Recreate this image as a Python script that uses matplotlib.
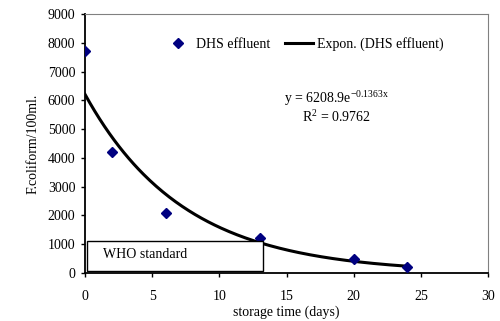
import numpy as np
import matplotlib.pyplot as plt
from matplotlib.patches import Rectangle

plt.rcParams['font.family'] = ['Liberation Serif', 'DejaVu Serif']

days = [0, 2, 6, 13, 20, 24]
fcoli = [7700, 4200, 2100, 1200, 500, 200]
fit_a = 6208.9
fit_b = -0.1363

fig = plt.figure(figsize=(5, 3.21), dpi=100)
ax = fig.add_axes([85 / 500, 1 - 273 / 321, 403 / 500, 259 / 321])

xs = np.linspace(0, 24, 200)
ax.plot(days, fcoli, linestyle='none', marker='D', markersize=5.5,
        color='#000080', label='DHS effluent', zorder=3)
ax.plot(xs, fit_a * np.exp(fit_b * xs), color='black', lw=2.2,
        label='Expon. (DHS effluent)', zorder=2)

# WHO standard box
ax.add_patch(Rectangle((0.25, 35), 13.1, 1060, facecolor='#b0b0b0',
                       edgecolor='none', zorder=3))
ax.add_patch(Rectangle((0.15, 70), 13.1, 1040, facecolor='white',
                       edgecolor='black', lw=1.0, zorder=4))
ax.text(1.35, 650, 'WHO standard', fontsize=10, va='center', zorder=5)

eq = (r'y = 6208.9e$^{\mathregular{-0.1363x}}$' + '\n'
      + r'R$^{\mathregular{2}}$ = 0.9762')
ax.text(18.7, 5770, eq, fontsize=10, ha='center', va='center',
        multialignment='center', linespacing=1.0)

ax.set_xlim(0, 30)
ax.set_ylim(0, 9000)
ax.set_xticks(range(0, 31, 5))
ax.set_yticks(range(0, 9001, 1000))
ax.tick_params(direction='out', length=3, labelsize=10, width=1)
ax.tick_params(axis='x', pad=9)
ax.tick_params(axis='y', pad=4)
for s in ['top', 'right']:
    ax.spines[s].set_color('#808080')
for s in ['left', 'bottom']:
    ax.spines[s].set_linewidth(1.3)

ax.set_xlabel('storage time (days)', fontsize=10, labelpad=2)
ax.set_ylabel('F.coliform/100ml.', fontsize=10, labelpad=6)

ax.legend(loc='center left', bbox_to_anchor=(164 / 500, 1 - 44 / 321),
          bbox_transform=fig.transFigure, ncol=2, frameon=False,
          fontsize=10, handlelength=2.0, columnspacing=1.1,
          handletextpad=0.3, borderpad=0, borderaxespad=0)

fig.savefig('out.png', dpi=100)
